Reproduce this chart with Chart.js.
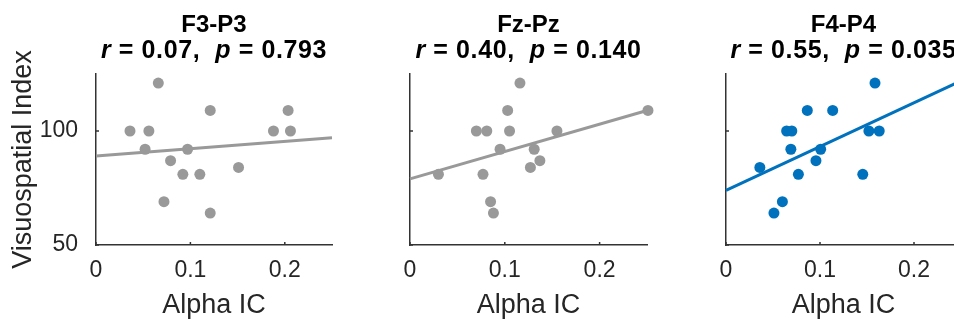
<!DOCTYPE html>
<html>
<head>
<meta charset="utf-8">
<script src="https://cdn.jsdelivr.net/npm/chart.js@4.4.1/dist/chart.umd.min.js"></script>
<style>
  body { margin: 0; background: #fff; }
  #wrap { position: relative; width: 954px; height: 320px; overflow: hidden; }
  canvas { position: absolute; top: 0; }
</style>
</head>
<body>
<div id="wrap">
  <canvas id="c1" width="345" height="320" style="left:0px"></canvas>
  <canvas id="c2" width="320" height="320" style="left:345px"></canvas>
  <canvas id="c3" width="320" height="320" style="left:665px"></canvas>
</div>
<script>
// panel labels
const channels = ["F3-P3", "Fz-Pz", "F4-P4"];
const rValues = ["0.07", "0.40", "0.55"];
const pValues = ["0.793", "0.140", "0.035"];

// tick labels
const xTicks = [0, 0.1, 0.2];
const yTicks = [50, 100];

// F3-P3
const f3X = [0.066, 0.036, 0.056, 0.052, 0.097, 0.121, 0.079, 0.092, 0.110, 0.072, 0.121, 0.151, 0.188, 0.2035, 0.206];
const f3Y = [121, 100, 100, 92, 92, 109, 87, 81, 81, 69, 64, 84, 100, 109, 100];
// Fz-Pz
const fzX = [0.116, 0.103, 0.070, 0.081, 0.105, 0.155, 0.095, 0.131, 0.137, 0.127, 0.030, 0.077, 0.085, 0.088, 0.251];
const fzY = [121, 109, 100, 100, 100, 100, 92, 92, 87, 84, 81, 81, 69, 64, 109];
// F4-P4
const f4X = [0.1585, 0.0865, 0.1135, 0.0645, 0.070, 0.152, 0.163, 0.069, 0.1007, 0.0957, 0.036, 0.077, 0.1455, 0.060, 0.051];
const f4Y = [121, 109, 109, 100, 100, 100, 100, 92, 92, 87, 84, 81, 81, 69, 64];

// regression lines (x from 0 to 0.25)
const fitX = [0, 0.25];
const f3Fit = [89, 97];
const fzFit = [79, 109];
const f4Fit = [74, 122];

const FONT = "'Liberation Sans', Arial, Helvetica, sans-serif";
const GRAY = "#999999";
const BLUE = "#0072BD";
const AXIS = "#333333";

const toPts = (xs, ys) => xs.map((x, i) => ({ x: x, y: ys[i] }));

// two-line bold title with italic r and p
const titlePlugin = {
  id: "panelTitle",
  afterDraw(chart, args, opts) {
    const ctx = chart.ctx;
    const area = chart.chartArea;
    const cx = (area.left + area.right) / 2;
    ctx.save();
    ctx.fillStyle = "#000";
    ctx.textBaseline = "alphabetic";
    ctx.textAlign = "left";
    ctx.font = "bold 24px " + FONT;
    let w = ctx.measureText(opts.name).width;
    ctx.fillText(opts.name, cx - w / 2, 31.5);

    ctx.letterSpacing = "0.6px";
    const segs = [
      { t: "r", it: true },
      { t: " = " + opts.r + ",  ", it: false },
      { t: "p", it: true },
      { t: " = " + opts.p, it: false },
    ];
    let total = 0;
    segs.forEach((s) => {
      ctx.font = (s.it ? "italic " : "") + "bold 25px " + FONT;
      s.w = ctx.measureText(s.t).width;
      total += s.w;
    });
    let x = cx - total / 2;
    segs.forEach((s) => {
      ctx.font = (s.it ? "italic " : "") + "bold 25px " + FONT;
      ctx.fillText(s.t, x, 57.5);
      x += s.w;
    });
    ctx.restore();
  },
};

// small inward tick marks like matlab
const innerTicks = {
  id: "innerTicks",
  afterDraw(chart) {
    const ctx = chart.ctx;
    const xs = chart.scales.x;
    const ys = chart.scales.y;
    const area = chart.chartArea;
    ctx.save();
    ctx.strokeStyle = AXIS;
    ctx.lineWidth = 1.5;
    ctx.beginPath();
    xTicks.forEach((v) => {
      const px = xs.getPixelForValue(v);
      ctx.moveTo(px, area.bottom);
      ctx.lineTo(px, area.bottom - 3);
    });
    yTicks.forEach((v) => {
      const py = ys.getPixelForValue(v);
      ctx.moveTo(area.left, py);
      ctx.lineTo(area.left + 3, py);
    });
    ctx.stroke();
    ctx.restore();
  },
};

function makePanel(id, idx, xs, ys, fit, color, leftW, padRight, showY) {
  new Chart(document.getElementById(id), {
    type: "scatter",
    data: {
      datasets: [
        {
          data: toPts(xs, ys),
          backgroundColor: color,
          borderWidth: 0,
          pointRadius: 5.5,
          clip: false,
          order: 1,
        },
        {
          type: "line",
          data: toPts(fitX, fit),
          borderColor: color,
          borderWidth: 3,
          pointRadius: 0,
          fill: false,
          clip: false,
          order: 2,
        },
      ],
    },
    options: {
      responsive: false,
      animation: false,
      devicePixelRatio: 1,
      layout: { padding: { left: 0, right: padRight, top: 74, bottom: 0 } },
      plugins: {
        legend: { display: false },
        tooltip: { enabled: false },
        panelTitle: { name: channels[idx], r: rValues[idx], p: pValues[idx] },
      },
      scales: {
        x: {
          type: "linear",
          min: 0,
          max: 0.25,
          afterBuildTicks: (s) => { s.ticks = xTicks.map((v) => ({ value: v })); },
          afterFit: (s) => { s.height = 75; },
          grid: { display: false },
          border: { display: true, color: AXIS, width: 1.5 },
          ticks: {
            color: "#262626",
            font: { family: FONT, size: 23 },
            padding: 4,
            maxRotation: 0,
            callback: (v) => String(v),
          },
          title: {
            display: true,
            text: "Alpha IC",
            color: "#262626",
            font: { family: FONT, size: 27, lineHeight: 1 },
            padding: { top: 0, bottom: 1 },
          },
        },
        y: {
          type: "linear",
          min: 50,
          max: 125,
          afterBuildTicks: (s) => { s.ticks = yTicks.map((v) => ({ value: v })); },
          afterFit: (s) => { s.width = leftW; },
          grid: { display: false },
          border: { display: true, color: AXIS, width: 1.5 },
          ticks: {
            display: showY,
            color: "#262626",
            font: { family: FONT, size: 23 },
            padding: 10,
            callback: (v) => String(v),
          },
          title: {
            display: showY,
            text: "Visuospatial Index",
            color: "#262626",
            font: { family: FONT, size: 27, lineHeight: 1 },
            padding: { top: 10, bottom: 0 },
          },
        },
      },
    },
    plugins: [titlePlugin, innerTicks],
  });
}

makePanel("c1", 0, f3X, f3Y, f3Fit, GRAY, 96, 13, true);
makePanel("c2", 1, fzX, fzY, fzFit, GRAY, 65, 18, false);
makePanel("c3", 2, f4X, f4Y, f4Fit, BLUE, 61, 24, false);
</script>
</body>
</html>
